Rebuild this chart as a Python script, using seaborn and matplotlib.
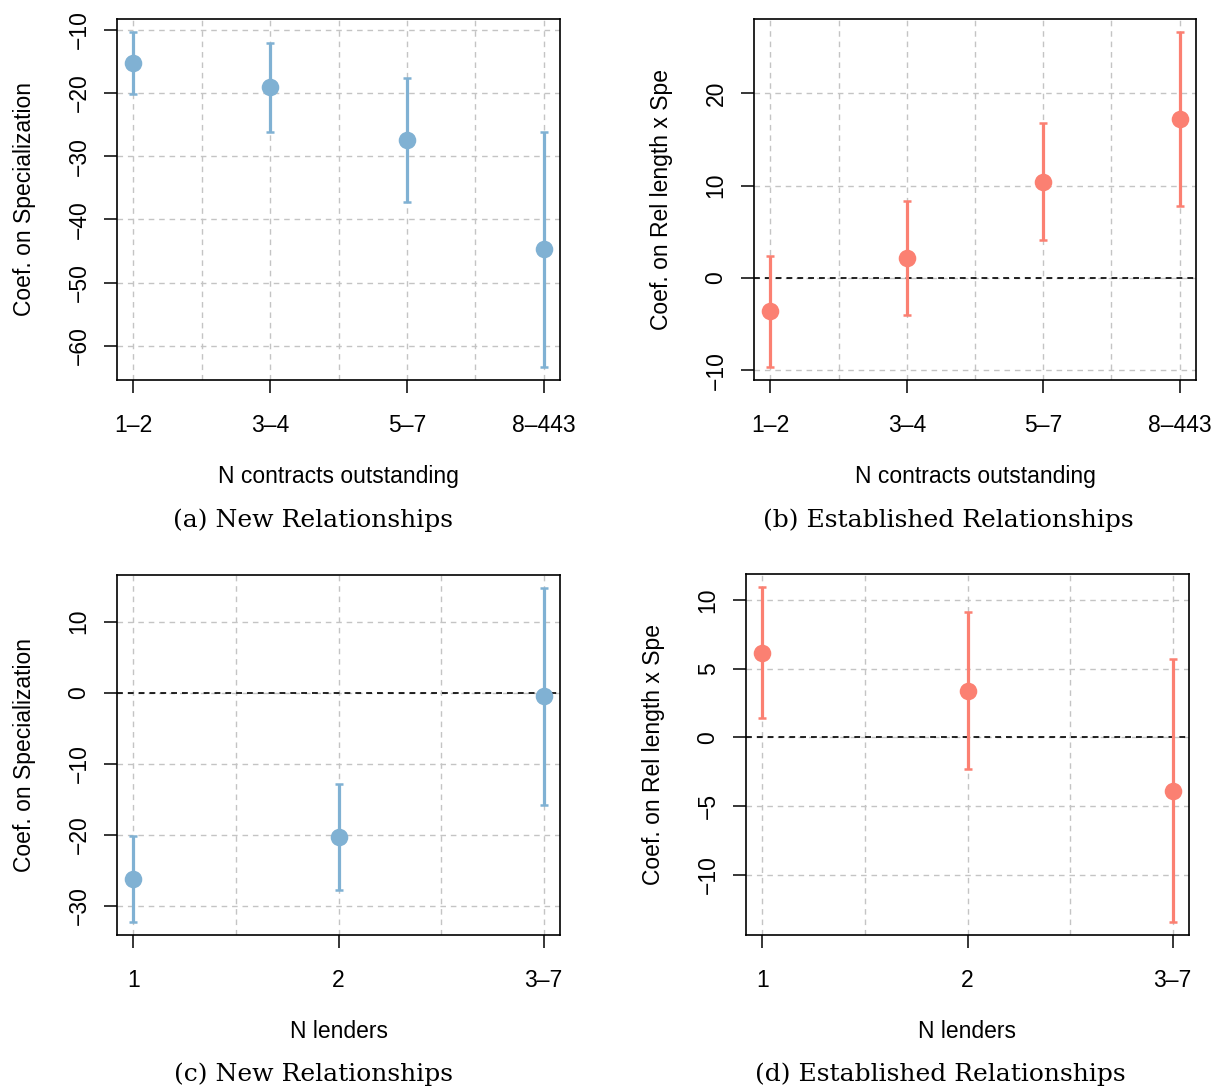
import numpy as np
import pandas as pd
import matplotlib
matplotlib.use("Agg")
import matplotlib.pyplot as plt
import seaborn as sns

# ---- coefficient estimates and 95% confidence bounds ----
contract_bins = ["1–2", "3–4", "5–7", "8–443"]
lender_bins = ["1", "2", "3–7"]

new_contracts_est = [-15.3, -19.1, -27.4, -44.7]
new_contracts_lo = [-20.2, -26.1, -37.2, -63.3]
new_contracts_hi = [-10.4, -12.1, -17.6, -26.1]

est_contracts_est = [-3.6, 2.2, 10.4, 17.2]
est_contracts_lo = [-9.6, -4.0, 4.1, 7.8]
est_contracts_hi = [2.4, 8.3, 16.8, 26.6]

new_lenders_est = [-26.2, -20.3, -0.5]
new_lenders_lo = [-32.2, -27.7, -15.8]
new_lenders_hi = [-20.2, -12.9, 14.7]

est_lenders_est = [6.1, 3.4, -3.9]
est_lenders_lo = [1.4, -2.3, -13.4]
est_lenders_hi = [10.9, 9.1, 5.7]

BLUE = "#80B1D3"
SALMON = "#FB8072"

sns.set_theme(style="ticks")
plt.rcParams["font.family"] = ["Liberation Sans", "DejaVu Sans"]
plt.rcParams["axes.unicode_minus"] = True

W, H = 1216, 1089
fig = plt.figure(figsize=(W / 100, H / 100), dpi=100)
FS = 16.5


def px_axes(left, top, right, bottom):
    return fig.add_axes([left / W, 1 - bottom / H, (right - left) / W, (bottom - top) / H])


def coef_panel(ax, labels, est, lo, hi, color, yticks, xlabel, ylabel, zero_line):
    n = len(labels)
    df = pd.DataFrame({"pos": np.arange(1, n + 1), "est": est, "lo": lo, "hi": hi})
    err = np.vstack([df["est"] - df["lo"], df["hi"] - df["est"]])
    ax.errorbar(df["pos"], df["est"], yerr=err, fmt="none", ecolor=color,
                elinewidth=2.3, capsize=3, capthick=1.8, zorder=3)
    sns.scatterplot(data=df, x="pos", y="est", ax=ax, color=color, s=160,
                    linewidth=0, zorder=4, legend=False)
    if zero_line:
        ax.axhline(0, color="black", lw=1.2, ls=(0, (3.5, 3)), zorder=2)
    ax.margins(x=0.04, y=0.04)

    ax.set_xticks(np.arange(1, n + 1))
    ax.set_xticklabels(labels)
    ax.set_xticks(np.arange(1.5, n, 1.0), minor=True)
    ax.set_yticks(yticks)
    ax.tick_params(axis="both", which="major", direction="out", length=9.5, width=1.1,
                   color="black", labelsize=FS, labelcolor="black")
    ax.tick_params(axis="x", which="major", pad=15)
    ax.tick_params(axis="y", which="major", pad=9.5, labelrotation=90)
    ax.tick_params(axis="x", which="minor", length=0)
    for lab in ax.get_yticklabels():
        lab.set_verticalalignment("center")

    grid_kw = dict(color="#C4C4C4", lw=1.0, ls=(0, (4, 3.5)))
    ax.grid(True, axis="x", which="both", **grid_kw)
    ax.grid(True, axis="y", which="major", **grid_kw)
    ax.set_axisbelow(True)

    for s in ax.spines.values():
        s.set_color("black")
        s.set_linewidth(1.2)

    ax.set_xlabel(xlabel, fontsize=FS, color="black")
    ax.set_ylabel(ylabel, fontsize=FS, color="black")
    ax.xaxis.set_label_coords(0.5, -0.268)
    ax.xaxis.label.set_verticalalignment("center")
    # rotated label: its "bottom" side faces the axis
    ax.yaxis.set_label_coords(-0.183, 0.5)
    ax.yaxis.label.set_verticalalignment("bottom")


ax_a = px_axes(117, 19, 560, 380)
coef_panel(ax_a, contract_bins, new_contracts_est, new_contracts_lo, new_contracts_hi,
           BLUE, [-60, -50, -40, -30, -20, -10], "N contracts outstanding",
           "Coef. on Specialization", zero_line=False)

ax_b = px_axes(754, 19, 1196, 380)
coef_panel(ax_b, contract_bins, est_contracts_est, est_contracts_lo, est_contracts_hi,
           SALMON, [-10, 0, 10, 20], "N contracts outstanding",
           "Coef. on Rel length x Spe", zero_line=True)

ax_c = px_axes(117, 575, 560, 935)
coef_panel(ax_c, lender_bins, new_lenders_est, new_lenders_lo, new_lenders_hi,
           BLUE, [-30, -20, -10, 0, 10], "N lenders",
           "Coef. on Specialization", zero_line=True)

ax_d = px_axes(746, 574, 1189, 935)
coef_panel(ax_d, lender_bins, est_lenders_est, est_lenders_lo, est_lenders_hi,
           SALMON, [-10, -5, 0, 5, 10], "N lenders",
           "Coef. on Rel length x Spe", zero_line=True)

cap_kw = dict(ha="center", va="center", fontsize=18, family=["DejaVu Serif"], color="black")
fig.text(313 / W, 1 - 520 / H, "(a) New Relationships", **cap_kw)
fig.text(948 / W, 1 - 520 / H, "(b) Established Relationships", **cap_kw)
fig.text(313 / W, 1 - 1074 / H, "(c) New Relationships", **cap_kw)
fig.text(940 / W, 1 - 1074 / H, "(d) Established Relationships", **cap_kw)

fig.savefig("out.png", dpi=100, facecolor="white")
